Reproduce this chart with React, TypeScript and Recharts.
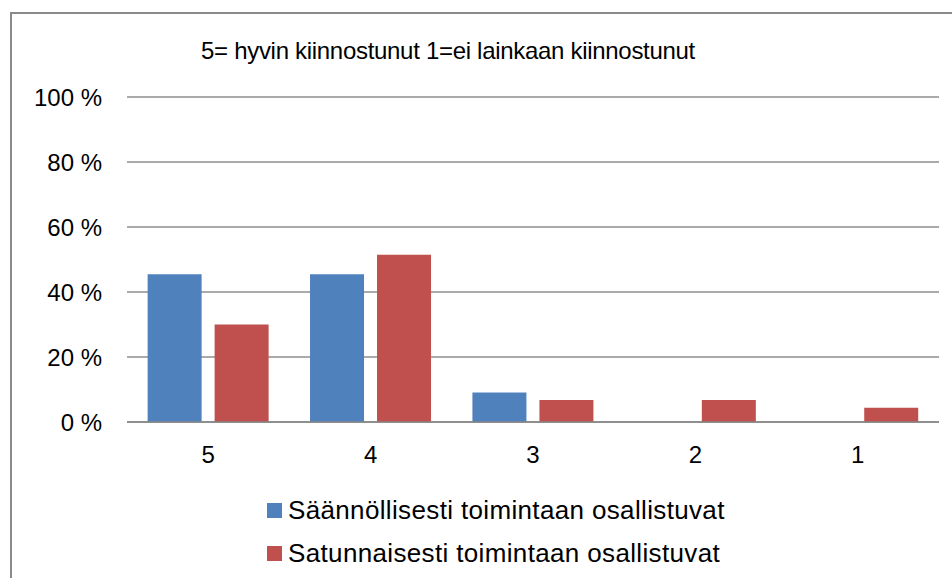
import { BarChart, Bar, XAxis, YAxis, CartesianGrid } from 'recharts';

const categories = ['5', '4', '3', '2', '1'];
const saannolliset = [45.5, 45.5, 9.1, 0, 0];
const satunnaiset = [30, 51.5, 6.8, 6.8, 4.4];
const yTicks = [0, 20, 40, 60, 80, 100];

const title = '5= hyvin kiinnostunut 1=ei lainkaan kiinnostunut';
const seriesNames = ['Säännöllisesti toimintaan osallistuvat', 'Satunnaisesti toimintaan osallistuvat'];
const colors = ['#4F81BD', '#C0504D'];

const data = categories.map((c, i) => ({
  name: c,
  a: saannolliset[i],
  b: satunnaiset[i],
}));

const font = '"Liberation Sans", Arial, sans-serif';

// legend drawn as a plain overlay so it doesn't eat into the plot height
function LegendBox() {
  return (
    <div
      style={{
        position: 'absolute', left: 267, top: 489,
        fontFamily: font, fontSize: 26, letterSpacing: 0.35, color: '#000',
      }}
    >
      {seriesNames.map((n, i) => (
        <div key={n} style={{ display: 'flex', alignItems: 'center', height: 43 }}>
          <span style={{ width: 15, height: 15, background: colors[i], marginRight: 6, display: 'inline-block' }} />
          <span>{n}</span>
        </div>
      ))}
    </div>
  );
}

export default function App() {
  return (
    <div style={{ position: 'relative', width: 952, height: 578, background: '#fff', overflow: 'hidden' }}>
      <style>{`body{margin:0}`}</style>
      <div
        style={{
          position: 'absolute', left: 10, top: 12, right: -4, bottom: -4,
          borderLeft: '2px solid #8a8a8a', borderTop: '2px solid #8a8a8a',
        }}
      />
      <div
        style={{
          position: 'absolute', left: 0, width: 896, top: 37, textAlign: 'center',
          fontFamily: font, fontSize: 24, color: '#000', letterSpacing: -0.3,
        }}
      >
        {title}
      </div>
      <BarChart
        width={952}
        height={578}
        data={data}
        margin={{ top: 97, right: 13, bottom: 96, left: 0 }}
        barCategoryGap="12.7%"
        barGap={13}
        style={{ position: 'absolute', left: 0, top: 0 }}
      >
        <CartesianGrid vertical={false} stroke="#8e8e8e" strokeWidth={1.3} />
        <XAxis
          dataKey="name"
          height={60}
          axisLine={{ stroke: '#868686', strokeWidth: 1.5 }}
          tickLine={false}
          tickSize={0}
          tickMargin={24}
          tick={{ fontSize: 24, fill: '#000', fontFamily: font }}
        />
        <YAxis
          width={127}
          domain={[0, 100]}
          ticks={yTicks}
          axisLine={false}
          tickLine={false}
          tickSize={0}
          tickMargin={25}
          tickFormatter={(v) => `${v} %`}
          tick={{ fontSize: 24, fill: '#000', fontFamily: font }}
        />
        <Bar dataKey="a" name={seriesNames[0]} fill={colors[0]} isAnimationActive={false} />
        <Bar dataKey="b" name={seriesNames[1]} fill={colors[1]} isAnimationActive={false} />
      </BarChart>
      <LegendBox />
    </div>
  );
}
